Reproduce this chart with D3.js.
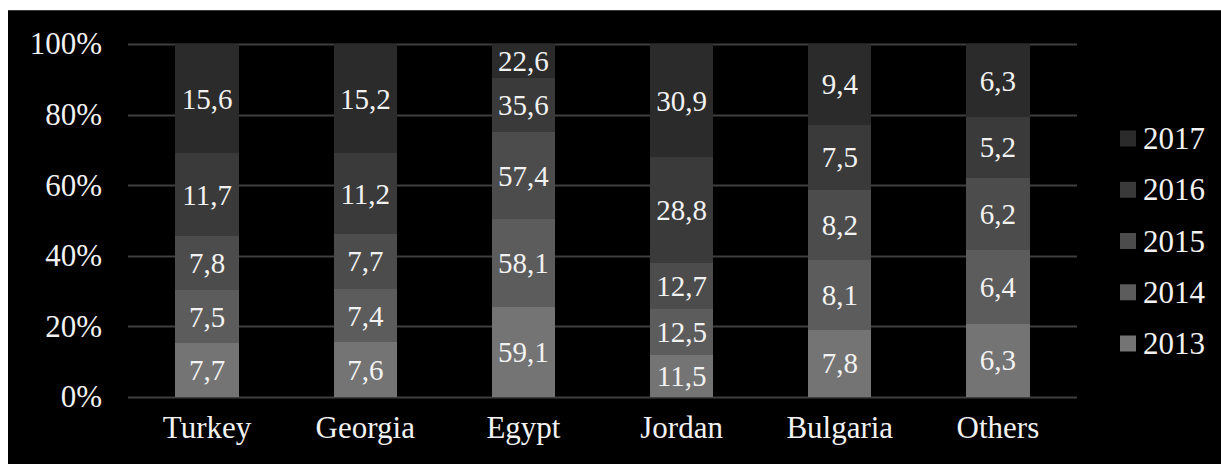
<!DOCTYPE html>
<html>
<head>
<meta charset="utf-8">
<script src="https://cdn.jsdelivr.net/npm/d3@7"></script>
<style>
  html, body { margin: 0; padding: 0; background: #fff; }
  svg { display: block; }
  svg text { font-family: "Liberation Serif", "Times New Roman", Tinos, "DejaVu Serif", serif !important; fill: #f2f2f2; }
</style>
</head>
<body>
<div id="chart"></div>
<script>
// Data: values printed on each segment (bars are drawn as 100% stacks)
const countries = ['Turkey', 'Georgia', 'Egypt', 'Jordan', 'Bulgaria', 'Others'];
const years = ['2013', '2014', '2015', '2016', '2017'];
const v2013 = [7.7, 7.6, 59.1, 11.5, 7.8, 6.3];
const v2014 = [7.5, 7.4, 58.1, 12.5, 8.1, 6.4];
const v2015 = [7.8, 7.7, 57.4, 12.7, 8.2, 6.2];
const v2016 = [11.7, 11.2, 35.6, 28.8, 7.5, 5.2];
const v2017 = [15.6, 15.2, 22.6, 30.9, 9.4, 6.3];
const yTicks = [0, 0.2, 0.4, 0.6, 0.8, 1];
const colors = ['#747474', '#5c5c5c', '#4c4c4c', '#3a3a3a', '#2b2b2b'];

const width = 1221, height = 464;
const margin = { left: 128, right: 144, top: 44, bottom: 67 };

const svg = d3.select('#chart').append('svg')
  .attr('width', width)
  .attr('height', height);

// Black panel
svg.append('rect')
  .attr('x', 8).attr('y', 10)
  .attr('width', width - 8).attr('height', height - 10)
  .attr('fill', '#000');
svg.append('line')
  .attr('x1', 8).attr('x2', width)
  .attr('y1', 10.5).attr('y2', 10.5)
  .attr('stroke', '#3a3a3a');

const rows = countries.map((c, i) => ({
  country: c,
  '2013': v2013[i], '2014': v2014[i], '2015': v2015[i],
  '2016': v2016[i], '2017': v2017[i]
}));

const series = d3.stack()
  .keys(years)
  .offset(d3.stackOffsetExpand)(rows);

const x = d3.scaleBand()
  .domain(countries)
  .range([margin.left, width - margin.right])
  .paddingInner(0.6)
  .paddingOuter(0.3);

const y = d3.scaleLinear()
  .domain([0, 1])
  .range([height - margin.bottom, margin.top]);

const color = d3.scaleOrdinal().domain(years).range(colors);

// Gridlines
svg.append('g')
  .selectAll('line')
  .data(yTicks)
  .join('line')
  .attr('x1', margin.left)
  .attr('x2', width - margin.right)
  .attr('y1', d => Math.round(y(d)) + 0.5)
  .attr('y2', d => Math.round(y(d)) + 0.5)
  .attr('stroke', '#3f3f3f')
  .attr('stroke-width', 2);

// Y axis labels
const yAxis = d3.axisLeft(y)
  .tickValues(yTicks)
  .tickFormat(d3.format('.0%'))
  .tickSize(0)
  .tickPadding(26);
svg.append('g')
  .attr('transform', `translate(${margin.left},0)`)
  .call(yAxis)
  .call(g => g.select('.domain').remove())
  .attr('font-family', null)
  .selectAll('text')
  .attr('font-size', 31)
  .attr('fill', '#f2f2f2');

// X axis labels
const xAxis = d3.axisBottom(x).tickSize(0).tickPadding(19);
svg.append('g')
  .attr('transform', `translate(0,${height - margin.bottom})`)
  .call(xAxis)
  .call(g => g.select('.domain').remove())
  .attr('font-family', null)
  .selectAll('text')
  .attr('font-size', 31)
  .attr('fill', '#f2f2f2');

// Bars
const layer = svg.append('g')
  .selectAll('g')
  .data(series)
  .join('g')
  .attr('fill', d => color(d.key));

layer.selectAll('rect')
  .data(d => d.map(p => Object.assign(p, { key: d.key })))
  .join('rect')
  .attr('x', d => x(d.data.country))
  .attr('width', x.bandwidth())
  .attr('y', d => y(d[1]))
  .attr('height', d => y(d[0]) - y(d[1]))
  .attr('shape-rendering', 'crispEdges');

// Value labels
layer.selectAll('text')
  .data(d => d)
  .join('text')
  .attr('x', d => x(d.data.country) + x.bandwidth() / 2)
  .attr('y', d => (y(d[0]) + y(d[1])) / 2)
  .attr('text-anchor', 'middle')
  .attr('dominant-baseline', 'central')
  .attr('font-size', 29)
  .text(d => d3.format('.1f')(d.data[d.key]).replace('.', ','));

// Legend
const legend = svg.append('g')
  .attr('transform', 'translate(1120,0)');
const legendY = d3.scalePoint()
  .domain(years.slice().reverse())
  .range([138.5, 343.5]);
const item = legend.selectAll('g')
  .data(years.slice().reverse())
  .join('g')
  .attr('transform', d => `translate(0,${legendY(d)})`);
item.append('rect')
  .attr('x', 0).attr('y', -8)
  .attr('width', 16).attr('height', 16)
  .attr('fill', d => color(d));
item.append('text')
  .attr('x', 23)
  .attr('dominant-baseline', 'central')
  .attr('font-size', 31)
  .text(d => d);
</script>
</body>
</html>
